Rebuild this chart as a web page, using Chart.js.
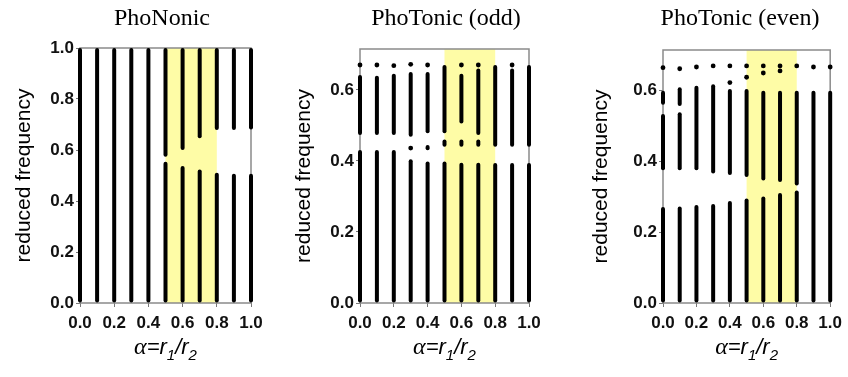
<!DOCTYPE html>
<html>
<head>
<meta charset="utf-8">
<script src="https://cdn.jsdelivr.net/npm/chart.js@4.4.1/dist/chart.umd.min.js"></script>
<style>
  html, body { margin: 0; padding: 0; background: #fff; }
  #wrap { position: relative; width: 848px; height: 377px; overflow: hidden; }
  canvas { position: absolute; top: 0; }
</style>
</head>
<body>
<div id="wrap">
  <canvas id="c1" width="280" height="377" style="left:0px"></canvas>
  <canvas id="c2" width="280" height="377" style="left:280px"></canvas>
  <canvas id="c3" width="288" height="377" style="left:560px"></canvas>
</div>
<script>
// tick labels
const alphaTicks = [0, 0.2, 0.4, 0.6, 0.8, 1.0];
const freqTicksPhonon = [0, 0.2, 0.4, 0.6, 0.8, 1.0];
const freqTicksPhoton = [0, 0.2, 0.4, 0.6];
const highlightRange = [0.5, 0.8];

// bands: [alpha, low, high]
const phononicBands = [
  [0.0, 0, 1], [0.1, 0, 1], [0.2, 0, 1], [0.3, 0, 1], [0.4, 0, 1],
  [0.5, 0, 0.554], [0.5, 0.574, 1],
  [0.6, 0, 0.537], [0.6, 0.600, 1],
  [0.7, 0, 0.524], [0.7, 0.646, 1],
  [0.8, 0, 0.511], [0.8, 0.678, 1],
  [0.9, 0, 0.507], [0.9, 0.678, 1],
  [1.0, 0, 0.507], [1.0, 0.680, 1]
];
const phononicDots = [];

const oddBands = [
  [0.0, 0, 0.431], [0.0, 0.473, 0.642],
  [0.1, 0, 0.431], [0.1, 0.473, 0.640],
  [0.2, 0, 0.431], [0.2, 0.473, 0.645],
  [0.3, 0, 0.405], [0.3, 0.468, 0.650],
  [0.4, 0, 0.398], [0.4, 0.430, 0.445], [0.4, 0.478, 0.650],
  [0.5, 0, 0.398], [0.5, 0.440, 0.460], [0.5, 0.478, 0.670],
  [0.6, 0, 0.395], [0.6, 0.440, 0.460], [0.6, 0.505, 0.645],
  [0.7, 0, 0.395], [0.7, 0.440, 0.460], [0.7, 0.473, 0.660],
  [0.8, 0, 0.394], [0.8, 0.440, 0.670],
  [0.9, 0, 0.394], [0.9, 0.440, 0.660],
  [1.0, 0, 0.394], [1.0, 0.440, 0.670]
];
const oddDots = [
  [0.0, 0.670], [0.1, 0.670], [0.2, 0.668], [0.3, 0.672], [0.3, 0.436],
  [0.4, 0.670], [0.6, 0.670], [0.7, 0.670], [0.9, 0.670]
];

const evenBands = [
  [0.0, 0, 0.271], [0.0, 0.375, 0.534], [0.0, 0.560, 0.600],
  [0.1, 0, 0.273], [0.1, 0.375, 0.539], [0.1, 0.557, 0.610],
  [0.2, 0, 0.277], [0.2, 0.375, 0.614],
  [0.3, 0, 0.280], [0.3, 0.366, 0.618],
  [0.4, 0, 0.288], [0.4, 0.362, 0.605],
  [0.5, 0, 0.295], [0.5, 0.356, 0.605],
  [0.6, 0, 0.301], [0.6, 0.346, 0.600],
  [0.7, 0, 0.311], [0.7, 0.342, 0.600],
  [0.8, 0, 0.318], [0.8, 0.332, 0.600],
  [0.9, 0, 0.600],
  [1.0, 0, 0.600]
];
const evenDots = [
  [0.0, 0.665], [0.1, 0.662], [0.2, 0.667], [0.3, 0.670],
  [0.4, 0.670], [0.4, 0.623], [0.5, 0.670], [0.5, 0.638],
  [0.6, 0.670], [0.6, 0.650], [0.7, 0.670], [0.7, 0.656],
  [0.8, 0.670], [0.9, 0.667], [1.0, 0.667]
];

// yellow highlight + gray frame behind the bands
const framePlugin = {
  id: "framePlugin",
  beforeDatasetsDraw(chart) {
    const { ctx, chartArea: a, scales: { x } } = chart;
    ctx.save();
    ctx.fillStyle = "#fefca6";
    const x0 = x.getPixelForValue(highlightRange[0]);
    const x1 = x.getPixelForValue(highlightRange[1]);
    ctx.fillRect(x0, a.top, x1 - x0, a.bottom - a.top);
    ctx.strokeStyle = "#8a8a8a";
    ctx.lineWidth = 1.5;
    ctx.strokeRect(a.left, a.top, a.right - a.left, a.bottom - a.top);
    ctx.restore();
  },
};

// titles, axis titles
const textPlugin = {
  id: "panelText",
  afterDraw(chart, args, opts) {
    const { ctx, chartArea: a } = chart;
    ctx.save();
    ctx.fillStyle = "#000";
    ctx.textAlign = "center";
    ctx.textBaseline = "alphabetic";
    ctx.font = '24px "Liberation Serif"';
    ctx.fillText(opts.title, opts.titleX, 25);

    ctx.save();
    ctx.translate(opts.yTitleX, (a.top + a.bottom) / 2);
    ctx.rotate(-Math.PI / 2);
    ctx.font = '21px "Liberation Sans"';
    ctx.textBaseline = "middle";
    ctx.fillText("reduced frequency", 0, 0);
    ctx.restore();

    // α=r1/r2 with subscripts
    const parts = [
      ["α", 'italic 24px "Liberation Serif"', 0],
      ["=r", 'italic 22px "Liberation Sans"', 0],
      ["1", 'italic 15px "Liberation Sans"', 6],
      ["/r", 'italic 22px "Liberation Sans"', 0],
      ["2", 'italic 15px "Liberation Sans"', 6],
    ];
    let total = 0;
    parts.forEach((p) => { ctx.font = p[1]; total += ctx.measureText(p[0]).width; });
    let cx = (a.left + a.right) / 2 - total / 2;
    ctx.textAlign = "left";
    parts.forEach((p) => {
      ctx.font = p[1];
      ctx.fillText(p[0], cx, 354 + p[2]);
      cx += ctx.measureText(p[0]).width;
    });
    ctx.restore();
  },
};

function makeChart(id, cfg) {
  const canvas = document.getElementById(id);
  const W = canvas.width, H = canvas.height;
  return new Chart(canvas.getContext("2d"), {
    type: "bar",
    data: {
      datasets: [
        {
          type: "bar",
          data: cfg.bands.map((b) => ({ x: b[0], y: [b[1], b[2]] })),
          backgroundColor: "#000",
          barThickness: 4,
          grouped: false,
          borderRadius: 2,
          borderSkipped: false,
          inflateAmount: 0,
          clip: false,
        },
        {
          type: "scatter",
          data: cfg.dots.map((d) => ({ x: d[0], y: d[1] })),
          backgroundColor: "#000",
          borderWidth: 0,
          pointRadius: 2.4,
          clip: false,
        },
      ],
    },
    options: {
      responsive: false,
      animation: false,
      layout: { padding: { top: cfg.area.top, right: W - cfg.area.right, left: 0, bottom: 0 } },
      scales: {
        x: {
          type: "linear",
          min: 0,
          max: 1,
          offset: false,
          border: { display: false },
          grid: { drawOnChartArea: false, offset: false, tickLength: 4, color: "#777" },
          afterBuildTicks: (s) => { s.ticks = alphaTicks.map((v) => ({ value: v })); },
          afterFit: (s) => { s.height = H - cfg.area.bottom; },
          ticks: {
            padding: 6,
            color: "#111",
            font: { family: "Liberation Sans", size: 17, weight: "bold" },
            callback: (v) => Number(v).toFixed(1),
            maxRotation: 0,
            autoSkip: false,
          },
        },
        y: {
          min: 0,
          max: cfg.yMax,
          border: { display: false },
          grid: { drawOnChartArea: false, tickLength: 4, color: "#777" },
          afterBuildTicks: (s) => { s.ticks = cfg.yTicks.map((v) => ({ value: v })); },
          afterFit: (s) => { s.width = cfg.area.left; },
          ticks: {
            padding: 2,
            color: "#111",
            font: { family: "Liberation Sans", size: 17, weight: "bold" },
            callback: (v) => Number(v).toFixed(1),
          },
        },
      },
      plugins: {
        legend: { display: false },
        tooltip: { enabled: false },
        panelText: { title: cfg.title, titleX: cfg.titleX, yTitleX: cfg.yTitleX },
      },
    },
    plugins: [framePlugin, textPlugin],
  });
}

makeChart("c1", {
  title: "PhoNonic", bands: phononicBands, dots: phononicDots,
  yMax: 1.0, yTicks: freqTicksPhonon,
  area: { left: 80, right: 251, top: 48, bottom: 303 }, titleX: 162, yTitleX: 24,
});
makeChart("c2", {
  title: "PhoTonic (odd)", bands: oddBands, dots: oddDots,
  yMax: 0.715, yTicks: freqTicksPhoton,
  area: { left: 80, right: 249, top: 49, bottom: 303 }, titleX: 166, yTitleX: 24,
});
makeChart("c3", {
  title: "PhoTonic (even)", bands: evenBands, dots: evenDots,
  yMax: 0.715, yTicks: freqTicksPhoton,
  area: { left: 103, right: 271, top: 50, bottom: 303 }, titleX: 180, yTitleX: 41,
});
</script>
</body>
</html>
